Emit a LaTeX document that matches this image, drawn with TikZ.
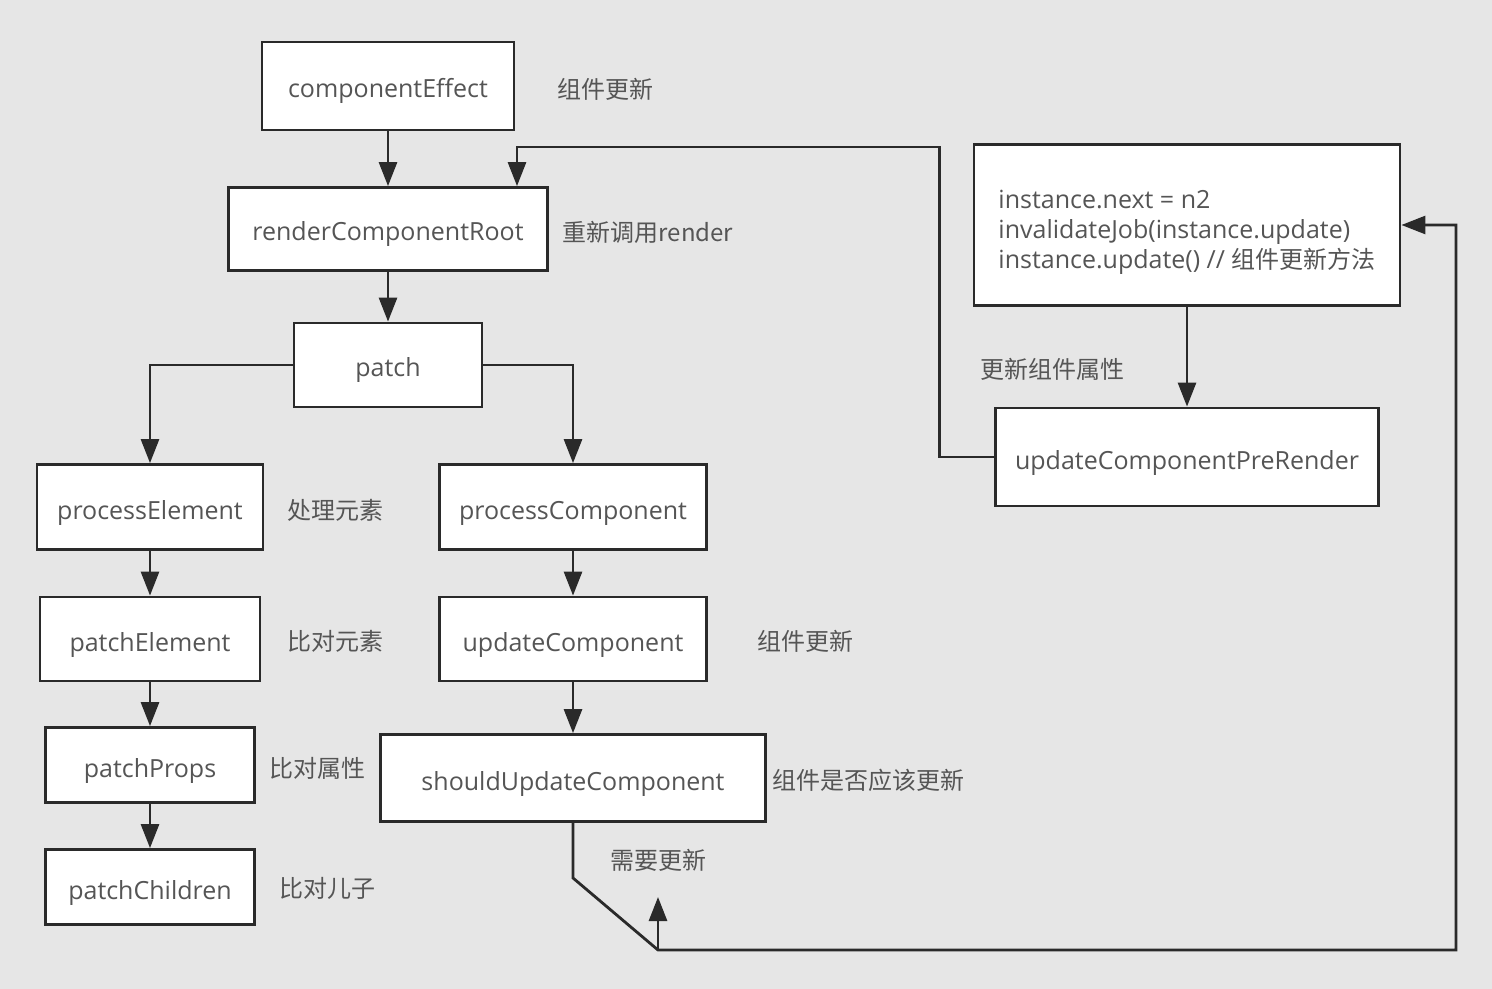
\documentclass[tikz,border=0pt]{standalone}
\usepackage{fontspec}
\setmainfont{Open Sans}
\newfontfamily\cjk{Noto Sans CJK SC}
\usetikzlibrary{arrows.meta}
\definecolor{bggray}{HTML}{E6E6E6}
\definecolor{txtgray}{HTML}{555555}
\definecolor{linegray}{HTML}{2A2A2A}
\tikzset{
  bigbox/.style={draw=linegray,fill=white,line width=1.4pt,inner sep=0pt,text=txtgray,font=\fontsize{12.5}{15}\selectfont},
  box/.style={bigbox,text height=14pt,text depth=2pt},
  note/.style={text=txtgray,inner sep=0pt,font=\cjk\fontsize{12}{15}\selectfont},
  flow/.style={draw=linegray,line width=1.4pt,-{Triangle[width=9pt,length=12pt]}}
}
\begin{document}
\begin{tikzpicture}[x=0.5pt,y=-0.5pt]
  \fill[bggray] (0,0) rectangle (1492,989);
  \useasboundingbox (0,0) rectangle (1492,989);

  % main chain
  \node[box,minimum width=126pt,minimum height=44pt] (ce) at (388,86) {componentEffect};
  \node[box,minimum width=159.5pt,minimum height=41.5pt] (rcr) at (388,229) {renderComponentRoot};
  \node[box,minimum width=94pt,minimum height=42pt] (patch) at (388,365) {patch};

  % element branch
  \node[box,minimum width=113pt,minimum height=42.5pt] (pe) at (150,507) {processElement};
  \node[box,minimum width=110pt,minimum height=42pt] (pel) at (150,639) {patchElement};
  \node[box,minimum width=104.5pt,minimum height=37.5pt] (pp) at (150,765) {patchProps};
  \node[box,minimum width=104.5pt,minimum height=37.5pt] (pch) at (150,887) {patchChildren};

  % component branch
  \node[box,minimum width=133.5pt,minimum height=42.5pt] (pc) at (573,507) {processComponent};
  \node[box,minimum width=133.5pt,minimum height=42pt] (uc) at (573,639) {updateComponent};
  \node[box,minimum width=192.5pt,minimum height=43.5pt] (suc) at (573,778) {shouldUpdateComponent};

  % right side
  \node[bigbox,minimum width=213pt,minimum height=80.5pt] (inst) at (1187,225)
    {\raisebox{-7pt}[0pt][0pt]{\begin{tabular}{@{}l@{}}instance.next = n2\\invalidateJob(instance.update)\\instance.update() // {\cjk\fontsize{12}{15}\selectfont 组件更新方法}\end{tabular}}};
  \node[box,minimum width=191.5pt,minimum height=49pt] (ucpr) at (1187,457) {updateComponentPreRender};

  % notes
  \node[note] (n1) at (605,89) {组件更新};
  \node[note] (n2) at (648,232) {重新调用render};
  \node[note] (n3) at (335,510) {处理元素};
  \node[note] (n4) at (335,641) {比对元素};
  \node[note] (n5) at (317,768) {比对属性};
  \node[note] (n6) at (327,888) {比对儿子};
  \node[note] (n7) at (805,641) {组件更新};
  \node[note] (n8) at (868,780) {组件是否应该更新};
  \node[note] (n9) at (658,860) {需要更新};
  \node[note] (n10) at (1052,369) {更新组件属性};

  % helper points
  \coordinate (rtop) at (517,147);
  \coordinate (bend) at (573,878);
  \coordinate (foot) at (658,950);
  \coordinate (rturn) at (1456,950);
  \coordinate (upend) at (658,897);

  % connectors
  \draw[flow] (ce) -- (rcr);
  \draw[flow] (rcr) -- (patch);
  \draw[flow] (patch.west) -| (pe);
  \draw[flow] (patch.east) -| (pc);
  \draw[flow] (pe) -- (pel);
  \draw[flow] (pel) -- (pp);
  \draw[flow] (pp) -- (pch);
  \draw[flow] (pc) -- (uc);
  \draw[flow] (uc) -- (suc);
  \draw[flow] (inst) -- (ucpr);
  \draw[flow] (ucpr.west) -- ++(-55,0) |- (rtop) -- (rtop |- rcr.north);
  \draw[flow] (suc.south) -- (suc.south |- bend) -- (foot) -- (rturn) |- (inst.east);
  \draw[flow] (foot) -- (upend);
\end{tikzpicture}
\end{document}
